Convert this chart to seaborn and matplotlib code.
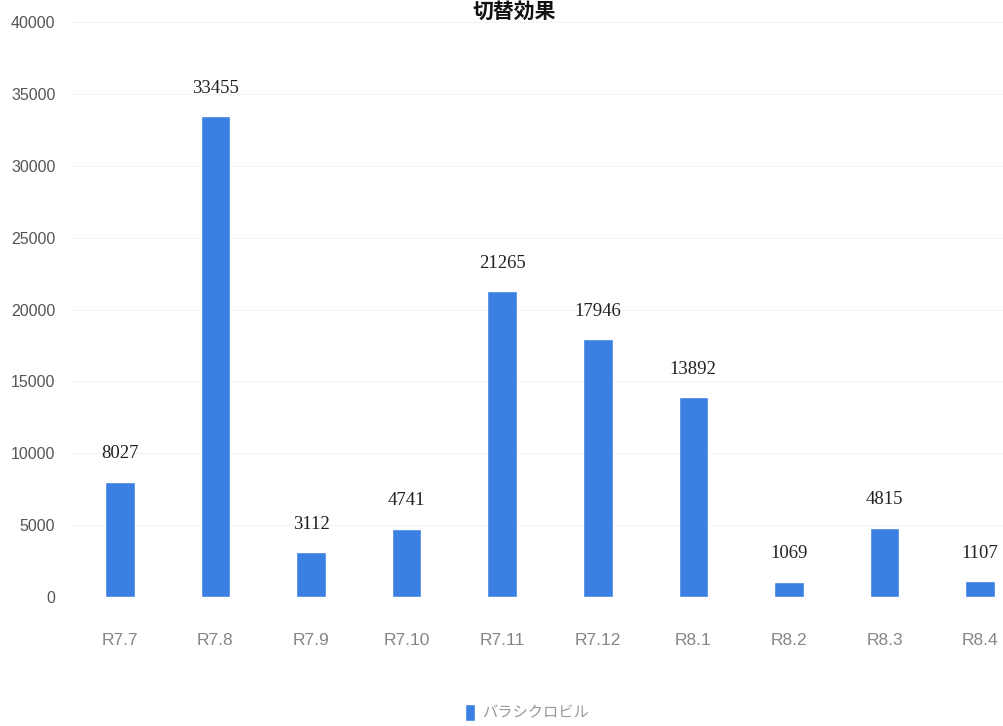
import pandas as pd
import matplotlib.pyplot as plt
import seaborn as sns

# data
months = ['R7.7', 'R7.8', 'R7.9', 'R7.10', 'R7.11', 'R7.12', 'R8.1', 'R8.2', 'R8.3', 'R8.4']
counts = [8027, 33455, 3112, 4741, 21265, 17946, 13892, 1069, 4815, 1107]
series_name = 'バラシクロビル'
title = '切替効果'
y_ticks = [0, 5000, 10000, 15000, 20000, 25000, 30000, 35000, 40000]

bar_color = '#3b7fe3'

sns.set_theme(style='white')
plt.rcParams['font.family'] = ['Noto Sans CJK JP', 'DejaVu Sans']

df = pd.DataFrame({'month': months, 'count': counts})

fig = plt.figure(figsize=(10.04, 7.26), dpi=100)
ax = fig.add_axes([72 / 1004, (726 - 597) / 726, (1004 - 72) / 1004, 575 / 726])

sns.barplot(data=df, x='month', y='count', color=bar_color, saturation=1,
            width=0.31, ax=ax, label=series_name)

ax.set_ylim(0, 40000)
ax.set_xlim(-0.5, 9.25)
ax.set_yticks(y_ticks)
ax.set_xlabel('')
ax.set_ylabel('')
ax.grid(axis='y', color='#f3f3f3', linewidth=0.8)
ax.set_axisbelow(True)
sns.despine(ax=ax, left=True, bottom=True)

thin = ['Liberation Sans', 'DejaVu Sans']
ax.tick_params(axis='y', length=0, pad=12, labelsize=11.5, labelcolor='#555555')
ax.tick_params(axis='x', length=0, pad=26, labelsize=12.5, labelcolor='#858585')
for lbl in ax.get_yticklabels():
    lbl.set_fontfamily(thin)
for lbl in ax.get_xticklabels():
    lbl.set_fontfamily(thin)

# value labels above bars
for i, v in enumerate(counts):
    ax.annotate(str(v), (i, v), xytext=(0, 14), textcoords='offset points',
                ha='center', va='bottom', fontsize=13.5, color='#222222',
                family=['Liberation Serif', 'DejaVu Serif'])

# title sits at the very top edge, as in the reference
fig.text(0.512, 1 - 1 / 726, title, ha='center', va='top',
         fontsize=15, fontweight='bold', color='#111111')

handles, labels = ax.get_legend_handles_labels()
if ax.get_legend() is not None:
    ax.get_legend().remove()
leg = fig.legend(handles[:1], [series_name], loc='center',
                 bbox_to_anchor=(0.525, 1 - 713 / 726), frameon=False,
                 fontsize=11, handlelength=0.65, handleheight=1.3, handletextpad=0.5)
for t in leg.get_texts():
    t.set_color('#9a9a9a')

fig.savefig('out.png', dpi=100)
